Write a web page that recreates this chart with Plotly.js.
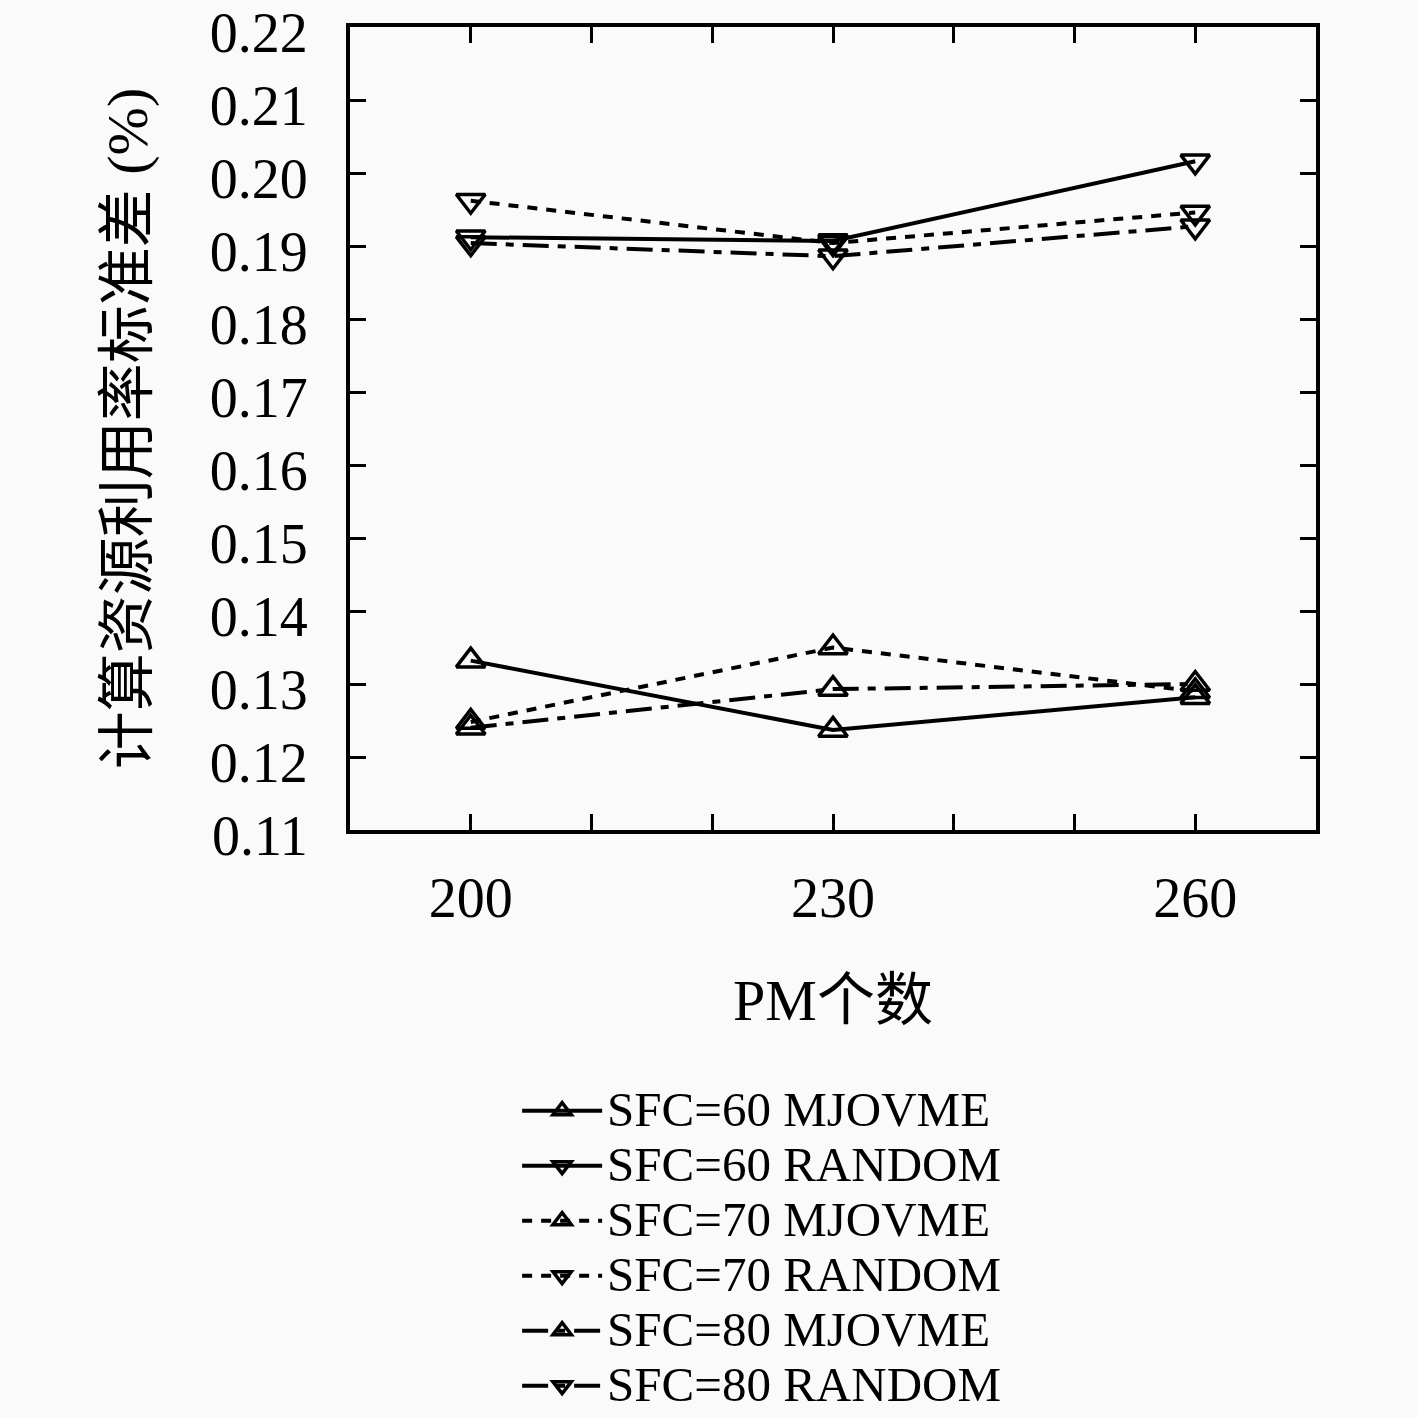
<!DOCTYPE html>
<html><head><meta charset="utf-8">
<script src="https://cdn.plot.ly/plotly-3.0.1.min.js"></script>
<style>
body{margin:0;background:#fafafa}
.legendtext{font-size:49px !important}
.legend .scrollbox{clip-path:none !important}
</style>
</head><body>
<div id="chart" style="width:1417px;height:1417px"></div>
<script>
var pmCounts = [200, 230, 260];
var sfc60Mjovme = [0.1332, 0.1237, 0.1282];
var sfc60Random = [0.1912, 0.1907, 0.2016];
var sfc70Mjovme = [0.1248, 0.1350, 0.1290];
var sfc70Random = [0.1962, 0.1904, 0.1946];
var sfc80Mjovme = [0.1240, 0.1293, 0.1300];
var sfc80Random = [0.1904, 0.1886, 0.1927];
var seriesNames = ['SFC=60 MJOVME','SFC=60 RANDOM','SFC=70 MJOVME','SFC=70 RANDOM','SFC=80 MJOVME','SFC=80 RANDOM'];
var xTickVals = [200, 210, 220, 230, 240, 250, 260];
var xTickText = ['200', '', '', '230', '', '', '260'];
var yTickVals = [0.11, 0.12, 0.13, 0.14, 0.15, 0.16, 0.17, 0.18, 0.19, 0.20, 0.21, 0.22];
var yTickText = ['0.11','0.12','0.13','0.14','0.15','0.16','0.17','0.18','0.19','0.20','0.21','0.22'];

var latin = 'Liberation Serif, Noto Sans CJK SC, serif';
function tr(y, name, dash, sym) {
  return {x: pmCounts, y: y, name: name, type: 'scatter', mode: 'lines+markers',
    line: {color: '#000', width: 4, dash: dash},
    marker: {symbol: sym, size: 25, color: '#000', line: {color: '#000', width: 3.5}}};
}
var dashShort = '10px,9px';
var dashDot = '26px,9px,8px,9px';
var data = [
  tr(sfc60Mjovme, seriesNames[0], 'solid', 'triangle-up-open'),
  tr(sfc60Random, seriesNames[1], 'solid', 'triangle-down-open'),
  tr(sfc70Mjovme, seriesNames[2], dashShort, 'triangle-up-open'),
  tr(sfc70Random, seriesNames[3], dashShort, 'triangle-down-open'),
  tr(sfc80Mjovme, seriesNames[4], dashDot, 'triangle-up-open'),
  tr(sfc80Random, seriesNames[5], dashDot, 'triangle-down-open')
];
var layout = {
  width: 1417, height: 1417,
  paper_bgcolor: '#fafafa', plot_bgcolor: '#fafafa',
  margin: {l: 350, r: 101, t: 27, b: 587, autoexpand: false},
  font: {family: latin, size: 56, color: '#000'},
  showlegend: true,
  legend: {x: 0.173, xanchor: 'left', y: -0.309, yanchor: 'top', bgcolor: 'rgba(0,0,0,0)',
    font: {family: latin, size: 40, color: '#000'}, itemwidth: 80, tracegroupgap: 0},
  xaxis: {range: [190, 270], tickvals: xTickVals, ticktext: xTickText,
    ticks: 'inside', ticklen: 16, tickwidth: 3, tickcolor: '#000',
    showline: true, linewidth: 4, linecolor: '#000', mirror: 'ticks',
    showgrid: false, zeroline: false, ticklabelstandoff: 16,
    tickfont: {family: latin, size: 56},
    title: {text: 'PM个数', font: {family: latin, size: 58}, standoff: 52}},
  yaxis: {range: [0.11, 0.22], tickvals: yTickVals, ticktext: yTickText,
    ticks: 'inside', ticklen: 16, tickwidth: 3, tickcolor: '#000',
    showline: true, linewidth: 4, linecolor: '#000', mirror: 'ticks',
    showgrid: false, zeroline: false, ticklabelstandoff: 27, ticklabeloverflow: 'allow',
    ticklabelshift: 5,
    tickfont: {family: latin, size: 56},
    title: {text: '计算资源利用率标准差 (%)', font: {family: latin, size: 58}, standoff: 44}}
};
Plotly.newPlot('chart', data, layout, {staticPlot: true});
</script>
</body></html>
